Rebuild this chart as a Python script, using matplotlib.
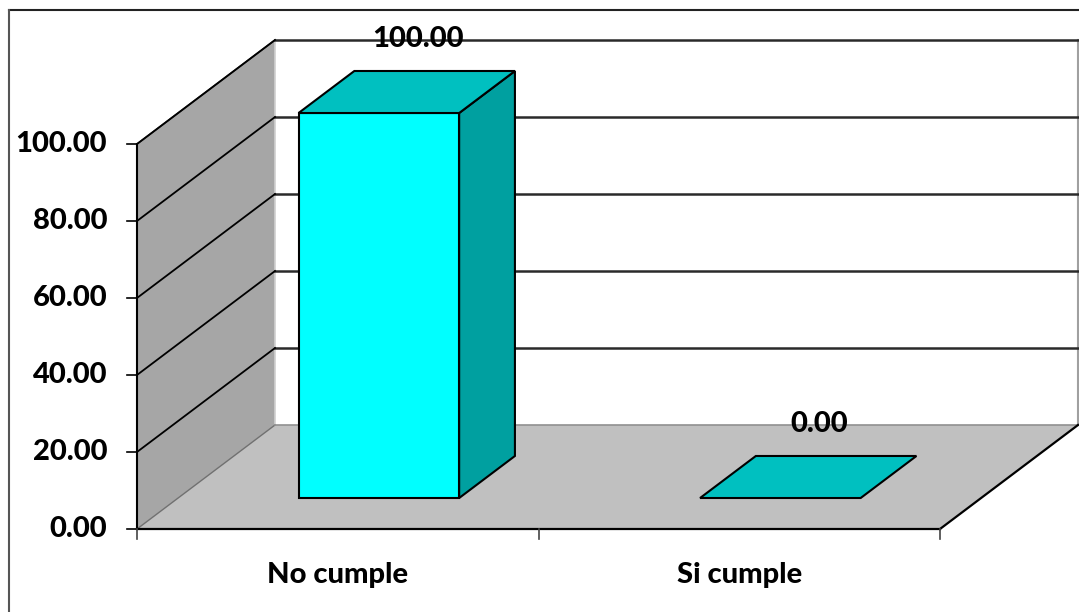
import matplotlib
matplotlib.use("Agg")
import matplotlib.pyplot as plt
from matplotlib.patches import Polygon

# chart data
categories = ["No cumple", "Si cumple"]
values = [100.00, 0.00]
y_ticks = [0, 20, 40, 60, 80, 100]

# oblique 3D frame, in pixels
X0, Y0 = 137, 529          # front-left corner of the floor
CAT_W = 401.5              # width of one category slot
PX_PER_UNIT = 3.85         # vertical pixels per value unit
DEPTH_DX, DEPTH_DY = 138, -104
BAR_HALF = 0.2             # half bar width, in category units
BAR_D0, BAR_D1 = 0.298, 0.702   # bar front/back depth fractions


def proj(u, v, d):
    """category position u, value v, depth fraction d -> pixel (x, y)"""
    return (X0 + u * CAT_W + d * DEPTH_DX,
            Y0 - v * PX_PER_UNIT + d * DEPTH_DY)


fig = plt.figure(figsize=(10.79, 6.12), dpi=100)
ax = fig.add_axes([0, 0, 1, 1])
ax.set_xlim(0, 1079)
ax.set_ylim(612, 0)
ax.axis("off")

n = len(categories)
vmax = y_ticks[-1]
font = dict(family=["Lato", "DejaVu Sans"], fontweight=900, color="black")

# outer chart border (top and left visible)
ax.plot([9, 1079], [9.5, 9.5], color="#222222", lw=1.5)
ax.plot([9, 9], [9.5, 612], color="#555555", lw=1.5)

# left side wall
side = [proj(0, 0, 0), proj(0, vmax, 0), proj(0, vmax, 1), proj(0, 0, 1)]
ax.add_patch(Polygon(side, closed=True, facecolor="#a6a6a6", edgecolor="none", zorder=1))
ax.plot(*zip(proj(0, 0, 1), proj(0, vmax, 1)), color="#d0d0d0", lw=1.2, zorder=2)
ax.plot(*zip(proj(0, vmax, 0), proj(0, vmax, 1)), color="#404040", lw=1.2, zorder=3)

# floor
floor = [proj(0, 0, 0), proj(n, 0, 0), proj(n, 0, 1), proj(0, 0, 1)]
ax.add_patch(Polygon(floor, closed=True, facecolor="#c0c0c0", edgecolor="none", zorder=1))
ax.plot(*zip(proj(0, 0, 0), proj(0, 0, 1)), color="#707070", lw=1.0, zorder=2)
ax.plot(*zip(proj(0, 0, 1), proj(n, 0, 1)), color="#909090", lw=1.2, zorder=2)
ax.plot(*zip(proj(n, 0, 0), proj(n, 0, 1)), color="black", lw=1.6, zorder=3)

# back wall right edge
ax.plot(*zip(proj(n, 0, 1), proj(n, vmax, 1)), color="#a0a0a0", lw=1.5, zorder=2)

# gridlines on side wall and back wall
for v in y_ticks[1:]:
    ax.plot(*zip(proj(0, v, 0), proj(0, v, 1)), color="black", lw=1.3, zorder=3)
    ax.plot(*zip(proj(0, v, 1), proj(n, v, 1)), color="#2a2a2a", lw=1.8, zorder=2)

# axes lines and ticks
ax.plot(*zip(proj(0, 0, 0), proj(0, vmax, 0)), color="black", lw=1.5, zorder=4)
ax.plot(*zip(proj(0, 0, 0), proj(n, 0, 0)), color="black", lw=1.6, zorder=4)
for v in y_ticks:
    x, y = proj(0, v, 0)
    ax.plot([x - 10, x], [y, y], color="black", lw=1.2, zorder=4)
    ax.text(x - 30, y, f"{v:.2f}", ha="right", va="center", fontsize=21, **font)
for i in range(n + 1):
    x, y = proj(i, 0, 0)
    ax.plot([x, x], [y, y + 10], color="#444444", lw=1.2, zorder=4)

for i, (cat, val) in enumerate(zip(categories, values)):
    u = i + 0.5
    l, r = u - BAR_HALF, u + BAR_HALF
    front = [proj(l, 0, BAR_D0), proj(r, 0, BAR_D0), proj(r, val, BAR_D0), proj(l, val, BAR_D0)]
    right = [proj(r, 0, BAR_D0), proj(r, 0, BAR_D1), proj(r, val, BAR_D1), proj(r, val, BAR_D0)]
    top = [proj(l, val, BAR_D0), proj(r, val, BAR_D0), proj(r, val, BAR_D1), proj(l, val, BAR_D1)]
    if val > 0:
        ax.add_patch(Polygon(front, closed=True, facecolor="#00ffff", edgecolor="black", lw=1.5, zorder=5))
        ax.add_patch(Polygon(right, closed=True, facecolor="#00a0a0", edgecolor="black", lw=1.5, zorder=5))
    ax.add_patch(Polygon(top, closed=True, facecolor="#00c0c0", edgecolor="black", lw=1.5, zorder=6))

    # value label above the bar
    lx, ly = proj(u, val, 0.58)
    ax.text(lx, ly - 45, f"{val:.2f}", ha="center", va="center", fontsize=21, zorder=7, **font)

    # category label
    cx, cy = proj(u, 0, 0)
    ax.text(cx, cy + 46, cat, ha="center", va="center", fontsize=21, **font)

fig.savefig("out.png", dpi=100)
